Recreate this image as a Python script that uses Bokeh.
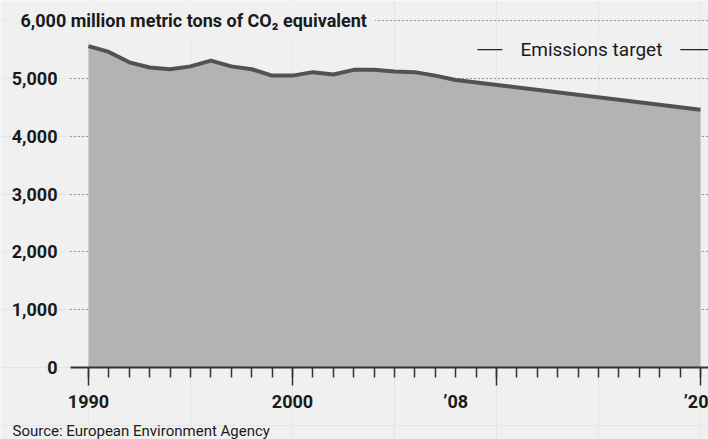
from bokeh.plotting import figure
from bokeh.models import (FixedTicker, LinearAxis, Label, Range1d, Grid,
                          NumeralTickFormatter)
from bokeh.embed import file_html
from bokeh.resources import INLINE

# ---- data ----
years = [1990, 1991, 1992, 1993, 1994, 1995, 1996, 1997, 1998, 1999,
         2000, 2001, 2002, 2003, 2004, 2005, 2006, 2007, 2008, 2020]
emissions = [5560, 5460, 5280, 5190, 5160, 5210, 5310, 5210, 5160, 5050,
             5050, 5110, 5070, 5150, 5150, 5120, 5110, 5050, 4975, 4460]

y_ticks = [0, 1000, 2000, 3000, 4000, 5000]
y_grid = [1000, 2000, 3000, 4000, 5000, 6000]
major_tick_years = [1990, 2000, 2010, 2020]
minor_tick_years = list(range(1990, 2021))
label_years = [1990, 2000, 2008, 2020]
label_texts = ["1990", "2000", "\u201908", "\u201920"]

title_text = "6,000 million metric tons of CO\u2082 equivalent"
target_text = "Emissions target"
target_years = [2009.07, 2021]
target_level = 5500
source_text = "Source: European Environment Agency"

BG = "#f0f0f0"
FONT = "Roboto"
X_START, X_END = 1985.686, 2020.392
AXIS_X = 1989.118   # where the left axis / grid start

p = figure(width=708, height=439, output_backend="svg", toolbar_location=None,
           x_axis_location=None, y_axis_location=None,
           x_range=Range1d(X_START, X_END), y_range=Range1d(-1245.7, 6349.5),
           min_border=0)
p.background_fill_color = BG
p.border_fill_color = BG
p.outline_line_color = None

# grid
grid = Grid(dimension=1, ticker=FixedTicker(ticks=y_grid),
            grid_line_color="#444444", grid_line_dash="1 3", grid_line_width=1)
if "cross_bounds" in Grid.properties():
    grid.cross_bounds = (AXIS_X, X_END)
p.add_layout(grid)

# y axis
ya = LinearAxis(ticker=FixedTicker(ticks=y_ticks, minor_ticks=[]), fixed_location=AXIS_X)
ya.formatter = NumeralTickFormatter(format="0,0")
ya.axis_line_color = None
ya.major_tick_out = 0
ya.major_tick_in = 0
ya.minor_tick_out = 0
ya.minor_tick_in = 0
ya.major_label_standoff = 13
ya.major_label_text_font = FONT
ya.major_label_text_font_style = "bold"
ya.major_label_text_font_size = "18px"
ya.major_label_text_color = "#1a1a1a"
p.add_layout(ya, "left")

# x axis: line + ticks
ax_ticks = LinearAxis(ticker=FixedTicker(ticks=major_tick_years, minor_ticks=minor_tick_years),
                      fixed_location=0, bounds=(AXIS_X, X_END))
ax_ticks.axis_line_color = "#333333"
ax_ticks.axis_line_width = 2
ax_ticks.major_tick_out = 18
ax_ticks.major_tick_in = 0
ax_ticks.minor_tick_out = 10
ax_ticks.minor_tick_in = 0
ax_ticks.major_tick_line_color = "#333333"
ax_ticks.minor_tick_line_color = "#333333"
ax_ticks.major_tick_line_width = 1.5
ax_ticks.minor_tick_line_width = 1.5
ax_ticks.major_label_text_alpha = 0
ax_ticks.major_label_text_font_size = "1px"
ax_ticks.major_label_standoff = 0
p.add_layout(ax_ticks, "below")

# x axis: labels
ax_lab = LinearAxis(ticker=FixedTicker(ticks=label_years, minor_ticks=[]), fixed_location=0)
ax_lab.major_label_overrides = {y: t for y, t in zip(label_years, label_texts)}
ax_lab.axis_line_color = None
ax_lab.major_tick_out = 0
ax_lab.major_tick_in = 0
ax_lab.minor_tick_out = 0
ax_lab.minor_tick_in = 0
ax_lab.major_label_standoff = 24
ax_lab.major_label_text_font = FONT
ax_lab.major_label_text_font_style = "bold"
ax_lab.major_label_text_font_size = "18px"
ax_lab.major_label_text_color = "#1a1a1a"
p.add_layout(ax_lab, "below")

# area + line
p.varea(x=years, y1=0, y2=emissions, fill_color="#b3b3b3")
p.line(x=years, y=emissions, line_color="#525252", line_width=4, line_join="round")

# target bracket
p.line(x=target_years, y=[target_level, target_level], line_color="#222222", line_width=1.3)
p.add_layout(Label(x=2010.29, y=target_level, text=target_text, text_font=FONT,
                   text_font_size="19px", text_color="#1a1a1a", text_baseline="middle",
                   text_align="left", background_fill_color=BG, padding=(18, 2)))

# title (6,000 tick label + unit)
p.add_layout(Label(x=12, x_units="screen", y=6000, y_units="data", text=title_text,
                   text_font=FONT, text_font_style="bold", text_font_size="18px",
                   text_color="#1a1a1a", text_baseline="middle", text_align="left",
                   background_fill_color=BG, padding=8))

# source
p.add_layout(Label(x=12, x_units="screen", y=9, y_units="screen", text=source_text,
                   text_font=FONT, text_font_size="15px", text_color="#1a1a1a",
                   text_baseline="middle", text_align="left"))

open("out.html", "w").write(file_html(p, INLINE))
